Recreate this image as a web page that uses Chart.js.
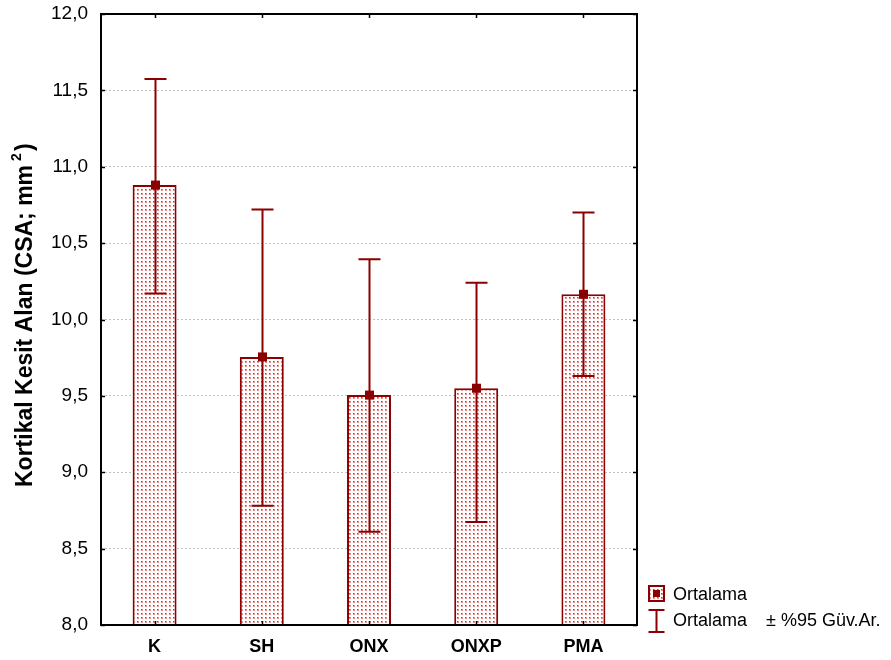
<!DOCTYPE html>
<html>
<head>
<meta charset="utf-8">
<script src="https://cdn.jsdelivr.net/npm/chart.js@4"></script>
<style>
  html, body { margin: 0; padding: 0; background: #fff; }
  #wrap { width: 891px; height: 660px; }
</style>
</head>
<body>
<div id="wrap"><canvas id="myBarChart" width="891" height="660"></canvas></div>
<script>
// |------------------------------- data -------------------------------|
var groups = ['K', 'SH', 'ONX', 'ONXP', 'PMA'];
var means = [10.88, 9.755, 9.505, 9.55, 10.165];
var ciUpper = [11.575, 10.72, 10.395, 10.24, 10.70];
var ciLower = [10.17, 8.78, 8.61, 8.675, 9.63];
var yTicks = [8.0, 8.5, 9.0, 9.5, 10.0, 10.5, 11.0, 11.5, 12.0];

var red = '#8b0000';
var FONT = '"Liberation Sans", Arial, sans-serif';

// dotted fill for the bars
function dotPattern() {
  var c = document.createElement('canvas');
  c.width = 4; c.height = 4;
  var g = c.getContext('2d');
  g.fillStyle = '#ffffff';
  g.fillRect(0, 0, 4, 4);
  g.fillStyle = '#e89090';
  g.fillRect(1, 1, 2, 2);
  g.fillStyle = '#bc4040';
  g.fillRect(1, 1, 1, 1);
  return g.createPattern(c, 'repeat');
}
var ctx0 = document.getElementById('myBarChart').getContext('2d');
var dots = dotPattern();

// error bars, square markers, frame, axis title and legend
var extras = {
  id: 'extras',
  afterDatasetsDraw: function(chart) {
    var ctx = chart.ctx;
    var x = chart.scales.x, y = chart.scales.y;
    ctx.save();
    ctx.strokeStyle = red;
    ctx.fillStyle = red;
    ctx.lineWidth = 2;
    for (var i = 0; i < groups.length; i++) {
      var cx = Math.round(x.getPixelForValue(i)) + 0.5;
      var yt = y.getPixelForValue(ciUpper[i]);
      var yb = y.getPixelForValue(ciLower[i]);
      ctx.beginPath();
      ctx.moveTo(cx, yt); ctx.lineTo(cx, yb);
      ctx.moveTo(cx - 11, yt); ctx.lineTo(cx + 11, yt);
      ctx.moveTo(cx - 11, yb); ctx.lineTo(cx + 11, yb);
      ctx.stroke();
      var ym = y.getPixelForValue(means[i]);
      ctx.fillRect(cx - 4.5, ym - 4.5, 9, 9);
    }
    ctx.restore();
  },
  afterDraw: function(chart) {
    var ctx = chart.ctx;
    var a = chart.chartArea;
    var x = chart.scales.x, y = chart.scales.y;
    ctx.save();
    // frame
    ctx.strokeStyle = '#000';
    ctx.lineWidth = 2;
    ctx.strokeRect(a.left, a.top, a.right - a.left, a.bottom - a.top);
    // small inner ticks
    ctx.lineWidth = 1.5;
    ctx.beginPath();
    yTicks.forEach(function(v) {
      var py = Math.round(y.getPixelForValue(v)) + 0.5;
      ctx.moveTo(a.left, py); ctx.lineTo(a.left + 4, py);
      ctx.moveTo(a.right, py); ctx.lineTo(a.right - 4, py);
    });
    for (var i = 0; i < groups.length; i++) {
      var px = Math.round(x.getPixelForValue(i)) + 0.5;
      ctx.moveTo(px, a.top); ctx.lineTo(px, a.top + 4);
      ctx.moveTo(px, a.bottom); ctx.lineTo(px, a.bottom - 4);
    }
    ctx.stroke();

    // y axis title with a raised 2
    ctx.save();
    ctx.translate(32, 487);
    ctx.rotate(-Math.PI / 2);
    ctx.fillStyle = '#000';
    ctx.textBaseline = 'alphabetic';
    ctx.font = 'bold 23px ' + FONT;
    var t1 = 'Kortikal Kesit Alan (CSA; mm';
    ctx.fillText(t1, 0, 0);
    var w1 = ctx.measureText(t1).width;
    ctx.font = 'bold 14px ' + FONT;
    ctx.fillText('2', w1 + 4, -11);
    ctx.font = 'bold 23px ' + FONT;
    ctx.fillText(')', w1 + 14, 0);
    ctx.restore();

    // legend
    var lx = 648, ly = 585;
    ctx.fillStyle = dots;
    ctx.fillRect(lx, ly, 17, 17);
    ctx.strokeStyle = red;
    ctx.lineWidth = 2;
    ctx.strokeRect(lx + 1, ly + 1, 15, 15);
    ctx.fillStyle = red;
    ctx.fillRect(lx + 5, ly + 5, 7, 7);
    var ex = lx + 8.5;
    ctx.beginPath();
    ctx.moveTo(ex - 8, 610); ctx.lineTo(ex + 8, 610);
    ctx.moveTo(ex, 610); ctx.lineTo(ex, 632);
    ctx.moveTo(ex - 8, 632); ctx.lineTo(ex + 8, 632);
    ctx.stroke();
    ctx.fillStyle = '#000';
    ctx.font = '18px ' + FONT;
    ctx.textBaseline = 'middle';
    ctx.fillText('Ortalama', 673, 595);
    ctx.fillText('Ortalama', 673, 621);
    ctx.fillText('\u00b1 %95 G\u00fcv.Ar.', 766, 621);
    ctx.restore();
  }
};

var myBarChart = new Chart(ctx0, {
  type: 'bar',
  data: {
    labels: groups,
    datasets: [{
      label: 'Ortalama',
      data: means,
      backgroundColor: dots,
      borderColor: red,
      borderWidth: 2,
      borderSkipped: false,
      categoryPercentage: 1.0,
      barPercentage: 0.41
    }]
  },
  options: {
    responsive: false,
    animation: false,
    layout: { padding: { top: 14, right: 254, left: 0, bottom: 0 } },
    scales: {
      x: {
        grid: { display: false },
        border: { display: false },
        ticks: {
          color: '#000',
          padding: 3,
          font: { family: FONT, size: 18, weight: 'bold' }
        },
        afterFit: function(s) { s.height = 35; }
      },
      y: {
        min: 8,
        max: 12,
        afterBuildTicks: function(s) {
          s.ticks = yTicks.map(function(v) { return { value: v }; });
        },
        grid: {
          color: '#c0c0c0',
          lineWidth: 1,
          drawTicks: false
        },
        border: { display: false, dash: [2, 2] },
        ticks: {
          color: '#000',
          padding: 13,
          font: { family: FONT, size: 19 },
          callback: function(v) { return Number(v).toFixed(1).replace('.', ','); }
        },
        afterFit: function(s) {
          s.width = 101;
          s.paddingTop = 0;
          s.paddingBottom = 0;
        }
      }
    },
    plugins: {
      legend: { display: false },
      tooltip: { enabled: false }
    }
  },
  plugins: [extras]
});
</script>
</body>
</html>
